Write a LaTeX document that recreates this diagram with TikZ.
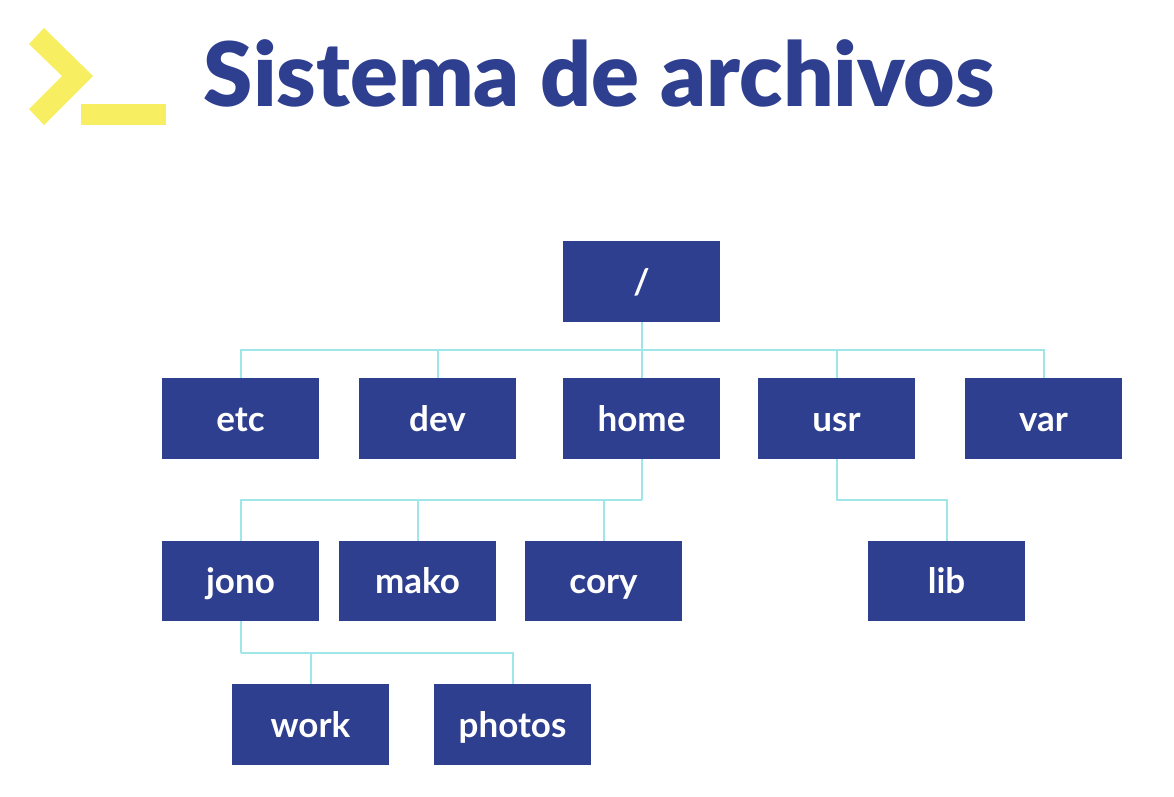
\documentclass[tikz,border=0pt]{standalone}
\usepackage{fontspec}
\setmainfont{Lato}
\newfontfamily\titlefont{Lato}[UprightFont=* Black]
\definecolor{boxblue}{HTML}{2F3F8F}
\definecolor{linecyan}{HTML}{9FE6E9}
\definecolor{logoyellow}{HTML}{F7EE62}
\tikzset{
  dirbox/.style={fill=boxblue,text=white,minimum width=157pt,minimum height=81pt,inner sep=0pt,
    font=\fontsize{35}{35}\selectfont\bfseries,text height=25pt,text depth=0pt},
  link/.style={draw=linecyan,line width=2pt},
  titletext/.style={text=boxblue,anchor=base west,inner sep=0pt,font=\fontsize{89}{89}\titlefont},
}
\begin{document}
\begin{tikzpicture}[x=1pt,y=-1pt]
\useasboundingbox (0,0) rectangle (1174,796);
\fill[logoyellow] (44,28) -- (93,76) -- (44,125) -- (29,109) -- (62,76) -- (29,44) -- cycle;
\fill[logoyellow] (81,104) rectangle (166,125);
\node[titletext] (title) at (203.5,106.5) {Sistema de archivos};
\coordinate (busa) at (641.5,350);
\coordinate (busb) at (641.5,500);
\coordinate (busc) at (836.5,500);
\coordinate (busd) at (240.5,653);
\node[dirbox] (root) at (641.5,281.5) {/};
\node[dirbox] (etc) at (240.5,418.5) {etc};
\node[dirbox] (dev) at (437.5,418.5) {dev};
\node[dirbox] (home) at (641.5,418.5) {home};
\node[dirbox] (usr) at (836.5,418.5) {usr};
\node[dirbox] (var) at (1043.5,418.5) {var};
\node[dirbox,minimum height=80pt] (jono) at (240.5,581) {jono};
\node[dirbox,minimum height=80pt] (mako) at (417.5,581) {mako};
\node[dirbox,minimum height=80pt] (cory) at (603.5,581) {cory};
\node[dirbox,minimum height=80pt] (lib) at (946.5,581) {lib};
\node[dirbox] (work) at (310.5,724.5) {work};
\node[dirbox] (photos) at (512.5,724.5) {photos};
\draw[link] (root.south) -- (home.north);
\draw[link] (busa) -| (etc.north);
\draw[link] (busa) -| (dev.north);
\draw[link] (busa) -| (usr.north);
\draw[link] (busa) -| (var.north);
\draw[link] (home.south) -- (busb);
\draw[link] (busb) -| (jono.north);
\draw[link] (busb) -| (mako.north);
\draw[link] (busb) -| (cory.north);
\draw[link] (usr.south) -- (busc) -| (lib.north);
\draw[link] (jono.south) -- (busd);
\draw[link] (busd) -| (work.north);
\draw[link] (busd) -| (photos.north);
\end{tikzpicture}
\end{document}
